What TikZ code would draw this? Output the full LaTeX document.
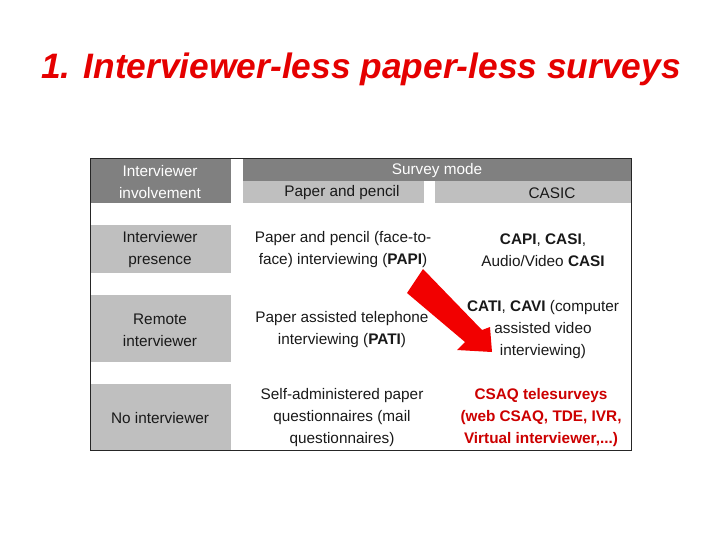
\documentclass[tikz,border=0pt]{standalone}
\usepackage{fontspec}
\setmainfont{Liberation Sans}
\begin{document}
\begin{tikzpicture}[x=0.75pt,y=-0.75pt,
  dark/.style={fill=black!50,draw=none},
  light/.style={fill=black!25,draw=none},
  txt/.style={font=\fontsize{11.5}{16.5}\selectfont,align=center,text=black!90},
  wtxt/.style={txt,text=white}]
\useasboundingbox (0,0) rectangle (720,540);
\node[font=\fontsize{26.5}{30}\selectfont\bfseries\itshape,text=red!90!black] (title) at (361,69) {1. Interviewer-less paper-less surveys};
% cells
\fill[dark] (90,158) rectangle (231,203);
\fill[dark] (243,158) rectangle (631,181);
\fill[light] (243,181) rectangle (424,203);
\fill[light] (435,181) rectangle (631,203);
\fill[light] (90,225) rectangle (231,273);
\fill[light] (90,295) rectangle (231,362);
\fill[light] (90,384) rectangle (231,450);
\draw[black!85,line width=0.6pt] (90,158) rectangle (631,450);
% texts
\node[wtxt] (h0) at (160,182) {Interviewer\\involvement};
\node[wtxt] (h1) at (437,171) {Survey mode};
\node[txt] (h2) at (342,193) {Paper and pencil};
\node[txt] (h3) at (552,193) {CASIC};
\node[txt] (r1) at (160,250) {Interviewer\\presence};
\node[txt] (r2) at (160,330) {Remote\\interviewer};
\node[txt] (r3) at (160,418) {No interviewer};
\node[txt] (c11) at (343,250) {Paper and pencil (face-to-\\face) interviewing (\textbf{PAPI})};
\node[txt] (c12) at (543,250) {\textbf{CAPI}, \textbf{CASI},\\Audio/Video \textbf{CASI}};
\node[txt] (c21) at (342,330) {Paper assisted telephone\\interviewing (\textbf{PATI})};
\node[txt] (c22) at (543,330) {\textbf{CATI}, \textbf{CAVI} (computer\\assisted video\\interviewing)};
\node[txt] (c31) at (342,418) {Self-administered paper\\questionnaires (mail\\questionnaires)};
\node[txt,font=\fontsize{11.5}{16.5}\selectfont\bfseries,text=red!80!black] (c32) at (541,418) {CSAQ telesurveys\\(web CSAQ, TDE, IVR,\\Virtual interviewer,...)};
% big red arrow
\fill[red!95!black] (407,293) -- (423,269) -- (482,330) -- (490,327) -- (492,352) -- (457,350) -- (465,342) -- cycle;
\end{tikzpicture}
\end{document}
